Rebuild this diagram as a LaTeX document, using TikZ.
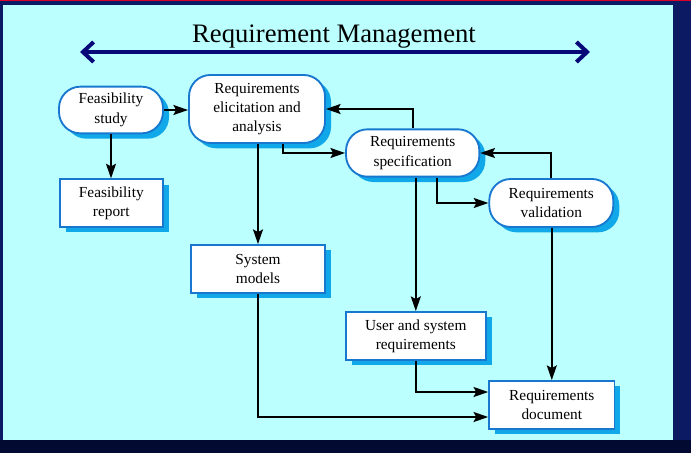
\documentclass[tikz,border=0pt]{standalone}
\usepackage{fontspec}
\setmainfont{Liberation Serif}
\usetikzlibrary{arrows.meta,shadows,calc}
\definecolor{panel}{RGB}{187,255,255}
\definecolor{navybg}{RGB}{12,26,100}
\definecolor{navydark}{RGB}{2,10,50}
\definecolor{shadowc}{RGB}{16,168,232}
\definecolor{borderc}{RGB}{24,120,208}
\definecolor{titlearrow}{RGB}{8,8,120}
\definecolor{topred}{RGB}{220,0,40}
\begin{document}
\begin{tikzpicture}[x=0.75pt,y=-0.75pt,
  box/.style={draw=borderc, line width=1.4pt, fill=white, align=center,
    font=\fontsize{11.5}{14.5}\selectfont, inner sep=2pt,
    drop shadow={shadow xshift=4.5pt, shadow yshift=-4pt, fill=shadowc, opacity=1}},
  rbox/.style={box, rounded corners=16pt},
  conn/.style={line width=1.3pt, -{Stealth[length=11pt,width=7.5pt,inset=2pt]}}]
\useasboundingbox (0,0) rectangle (691,453);
\fill[navybg] (0,0) rectangle (691,453);
\fill[navydark] (0,440) rectangle (691,453);
\fill[topred] (0,0) rectangle (691,1.5);
\fill[panel] (3,5) rectangle (673,440);

\node[font=\fontsize{20}{24}\selectfont, anchor=base] (title) at (334,43) {Requirement Management};
\coordinate (al) at (80,52);
\coordinate (ar) at (590,52);
\draw[titlearrow, line width=3pt, {Straight Barb[length=8pt,width=15pt]}-{Straight Barb[length=8pt,width=15pt]}] (al) -- (ar);

\node[rbox, minimum width=78pt, minimum height=35pt] (fs) at (111,110) {Feasibility\\study};
\node[rbox, minimum width=102pt, minimum height=51pt] (el) at (257,109) {Requirements\\elicitation and\\analysis};
\node[rbox, minimum width=100pt, minimum height=35.5pt] (sp) at (412.7,153) {Requirements\\specification};
\node[rbox, minimum width=93pt, minimum height=36pt] (va) at (551.3,203) {Requirements\\validation};
\node[box, minimum width=77pt, minimum height=35.5pt] (fr) at (111.3,203) {Feasibility\\report};
\node[box, minimum width=101pt, minimum height=36pt] (sm) at (258,269) {System\\models};
\node[box, minimum width=105pt, minimum height=36pt] (us) at (415.8,336) {User and system\\requirements};
\node[box, minimum width=94pt, minimum height=36pt] (rd) at (551.8,405) {Requirements\\document};

\draw[conn] (fs.east) -- (fs.east -| el.west);
\draw[conn] (fs.south) -- (fs.south |- fr.north);
\draw[conn] (el.south -| sm.north) -- (sm.north);
\draw[conn] ([xshift=19.5pt]el.south) |- (sp.west);
\draw[conn] (sp.north) |- (el.east);
\draw[conn] ([xshift=18.4pt]sp.south) |- (va.west);
\draw[conn] (va.north) |- (sp.east);
\draw[conn] (sp.south -| us.north) -- (us.north);
\draw[conn] (va.south -| rd.north) -- (rd.north);
\draw[conn] (us.south) |- ([yshift=9.75pt]rd.west);
\draw[conn] (sm.south) |- ([yshift=-9pt]rd.west);
\end{tikzpicture}
\end{document}
